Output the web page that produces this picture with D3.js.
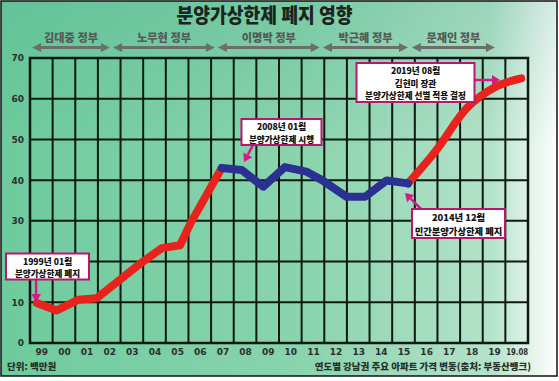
<!DOCTYPE html>
<html><head><meta charset="utf-8">
<script src="https://cdn.jsdelivr.net/npm/d3@7/dist/d3.min.js"></script>
<style>html,body{margin:0;padding:0;background:#fff;}svg{display:block;}</style>
</head><body>
<svg id="c" width="559" height="381"></svg>
<script>
// ---- data ----
const xLabels = ["99","00","01","02","03","04","05","06","07","08","09","10","11","12","13","14","15","16","17","18","19","19.08"];
const yTicks = [0,10,20,30,40,50,60,70];
// positions are in x-label units (0 = "99", 21 = "19.08")
const redAPos = [-0.2, 0.68, 1.63, 2.45, 4.3, 5.32, 6.13, 6.6, 7.97];
const redAVal = [9.8, 8.0, 10.6, 11.0, 19.2, 23.3, 24.0, 29.5, 43.0];
const bluePos = [7.97, 8.85, 9.8, 10.76, 11.7, 12.4, 13.49, 14.3, 15.25, 16.2];
const blueVal = [43.0, 42.5, 38.4, 43.2, 42.1, 40.0, 35.9, 35.9, 39.9, 39.2];
const redBPos = [16.2, 17.4, 18.8, 20.1, 21.2];
const redBVal = [39.2, 47.0, 57.7, 63.0, 65.0];
const govNames = ["김대중 정부","노무현 정부","이명박 정부","박근혜 정부","문재인 정부"];
const govStart = [-0.41, 3.17, 7.8, 12.44, 16.37];
const govEnd   = [3.03, 7.67, 12.3, 16.2, 20.04];
const notes = [
  {lines:["1999년 01월","분양가상한제 폐지"]},
  {lines:["2008년 01월","분양가상한제 시행"]},
  {lines:["2019년 08월","김현미 장관","분양가상한제 선별 적용 결정"]},
  {lines:["2014년 12월","민간분양가상한제 폐지"]}
];
const title = "분양가상한제 폐지 영향";
const unitText = "단위: 백만원";
const sourceText = "연도별 강남권 주요 아파트 가격 변동(출처: 부동산뱅크)";

// ---- layout ----
const svg = d3.select("#c");
const L = 30, R = 528, T = 58, B = 343;
const x = d3.scaleLinear().domain([-0.5, 21.5]).range([L, R]);
const y = d3.scaleLinear().domain([0, 70]).range([B, T]);
const KR = "'Noto Sans CJK KR','Noto Sans',sans-serif";
const NUM = "'DejaVu Sans',Verdana,sans-serif";

const defs = svg.append("defs");
const g1 = defs.append("linearGradient").attr("id","bg").attr("x1","0").attr("x2","1").attr("y1","0").attr("y2","0");
g1.append("stop").attr("offset","0%").attr("stop-color","#6ecb9d");
g1.append("stop").attr("offset","55%").attr("stop-color","#8ad4ae");
g1.append("stop").attr("offset","88%").attr("stop-color","#b4e2c9");
g1.append("stop").attr("offset","100%").attr("stop-color","#ffffff");
const g2 = defs.append("linearGradient").attr("id","bgv").attr("x1","0").attr("x2","0").attr("y1","0").attr("y2","1");
g2.append("stop").attr("offset","0%").attr("stop-color","#2a9a7a").attr("stop-opacity",0.18);
g2.append("stop").attr("offset","40%").attr("stop-color","#2a9a7a").attr("stop-opacity",0);

svg.append("rect").attr("x",1).attr("y",1).attr("width",556).attr("height",375).attr("fill","url(#bg)");
svg.append("rect").attr("x",1).attr("y",1).attr("width",556).attr("height",375).attr("fill","url(#bgv)");
svg.append("rect").attr("x",1).attr("y",1).attr("width",556).attr("height",375).attr("fill","none").attr("stroke","#111").attr("stroke-width",1.5);

// title
svg.append("text").attr("x",264.5).attr("y",23).attr("text-anchor","middle")
  .attr("font-family",KR).attr("font-weight",900).attr("font-size",20).attr("fill","#1a2420")
  .attr("textLength",176).attr("lengthAdjust","spacingAndGlyphs").text(title);

// government arrows
const ah = (g, x1, x2, yy, col, w, hl, hw) => {
  g.append("line").attr("x1",x1+hl-1).attr("x2",x2-hl+1).attr("y1",yy).attr("y2",yy).attr("stroke",col).attr("stroke-width",w);
  g.append("path").attr("d",`M${x1},${yy}L${x1+hl},${yy-hw}L${x1+hl},${yy+hw}Z`).attr("fill",col);
  g.append("path").attr("d",`M${x2},${yy}L${x2-hl},${yy-hw}L${x2-hl},${yy+hw}Z`).attr("fill",col);
};
const gov = svg.append("g");
govNames.forEach((n,i)=>{
  const a = x(govStart[i]), b = x(govEnd[i]);
  ah(gov, a, b, 47.5, "#6a6e6c", 3, 9, 4.5);
  gov.append("text").attr("x",(a+b)/2).attr("y",42).attr("text-anchor","middle")
    .attr("font-family",KR).attr("font-weight",900).attr("font-size",11.2).attr("fill","#555a58").text(n);
});

// grid
const grid = svg.append("g");
d3.range(0,23).forEach(i=>{
  grid.append("line").attr("x1",x(i-0.5)).attr("x2",x(i-0.5)).attr("y1",T).attr("y2",B).attr("stroke","#0c1a12").attr("stroke-width",2);
});
yTicks.forEach(v=>{
  grid.append("line").attr("x1",L).attr("x2",R).attr("y1",y(v)).attr("y2",y(v)).attr("stroke","#0c1a12").attr("stroke-width",2);
});
grid.append("rect").attr("x",L).attr("y",T).attr("width",R-L).attr("height",B-T).attr("fill","none").attr("stroke","#0c1a12").attr("stroke-width",2.5);

// axes
const yAxis = d3.axisLeft(y).tickValues(yTicks).tickSize(0).tickPadding(6);
const ya = svg.append("g").attr("transform",`translate(${L},0)`).call(yAxis);
ya.select(".domain").remove();
ya.selectAll("text").attr("font-family",NUM).attr("font-weight",700).attr("font-size",9).attr("fill","#2a2f2d");
const xAxis = d3.axisBottom(x).tickValues(d3.range(0,22)).tickFormat(i=>xLabels[i]).tickSize(0).tickPadding(6);
const xa = svg.append("g").attr("transform",`translate(0,${B})`).call(xAxis);
xa.select(".domain").remove();
xa.selectAll("text").attr("font-family",NUM).attr("font-weight",700).attr("font-size",9).attr("fill","#2a2f2d")
  .each(function(d){ if (xLabels[d].length > 3) d3.select(this).attr("textLength",22).attr("lengthAdjust","spacingAndGlyphs"); });

// lines
const lineL = d3.line().x(d=>x(d[0])).y(d=>y(d[1])).curve(d3.curveLinear);
const lineS = d3.line().x(d=>x(d[0])).y(d=>y(d[1])).curve(d3.curveMonotoneX);
const zip = (a,b)=>a.map((v,i)=>[v,b[i]]);
svg.append("path").attr("d",lineL(zip(redAPos,redAVal))).attr("fill","none").attr("stroke","#e8221d").attr("stroke-width",8).attr("stroke-linejoin","round").attr("stroke-linecap","round");
svg.append("path").attr("d",lineS(zip(redBPos,redBVal))).attr("fill","none").attr("stroke","#e8221d").attr("stroke-width",8).attr("stroke-linejoin","round").attr("stroke-linecap","round");
svg.append("path").attr("d",lineL(zip(bluePos,blueVal))).attr("fill","none").attr("stroke","#2b3192").attr("stroke-width",8).attr("stroke-linejoin","round").attr("stroke-linecap","round");

// annotations
const MAG = "#d8198a", BOR = "#b8166f";
const ann = svg.append("g");
function box(cx, yTop, w, h, lines, lh, fs){
  ann.append("rect").attr("x",cx-w/2).attr("y",yTop).attr("width",w).attr("height",h).attr("fill","#fff").attr("stroke",BOR).attr("stroke-width",2);
  const t = ann.append("text").attr("x",cx).attr("y",yTop+lh-1.5).attr("text-anchor","middle")
      .attr("font-family",KR).attr("font-weight",900).attr("font-size",fs).attr("fill","#111");
  lines.forEach((s,i)=>{
    t.append("tspan").attr("x",cx).attr("dy", i===0 ? 0 : lh).text(s);
  });
}
function arrow(x1,y1,x2,y2){
  const ang = Math.atan2(y2-y1,x2-x1), hl=8, hw=5;
  const bx = x2-hl*Math.cos(ang), by = y2-hl*Math.sin(ang);
  ann.append("line").attr("x1",x1).attr("y1",y1).attr("x2",bx).attr("y2",by).attr("stroke",MAG).attr("stroke-width",2.5);
  const px = -Math.sin(ang)*hw, py = Math.cos(ang)*hw;
  ann.append("path").attr("d",`M${x2},${y2}L${bx+px},${by+py}L${bx-px},${by-py}Z`).attr("fill",MAG);
}
// note 1
arrow(x(-0.23), 279, x(-0.23), 302);
box(47.5, 253.5, 83, 26, notes[0].lines, 12.5, 8.6);
// note 2
arrow(253, 145, 244, 162);
box(281.5, 119, 80, 26, notes[1].lines, 12.5, 8.6);
// note 3
arrow(474, 80, 500, 80);
box(415.5, 63, 118, 39, notes[2].lines, 12.5, 8.6);
// note 4
arrow(421, 209, 405, 193);
box(458.5, 209, 93, 29, notes[3].lines, 13.6, 9.3);

// footer
svg.append("text").attr("x",7).attr("y",370).attr("font-family",KR).attr("font-weight",900).attr("font-size",9.5).attr("fill","#26302c").text(unitText);
svg.append("text").attr("x",531).attr("y",370).attr("text-anchor","end").attr("font-family",KR).attr("font-weight",900).attr("font-size",9.5).attr("fill","#26302c").text(sourceText);
</script>
</body></html>
